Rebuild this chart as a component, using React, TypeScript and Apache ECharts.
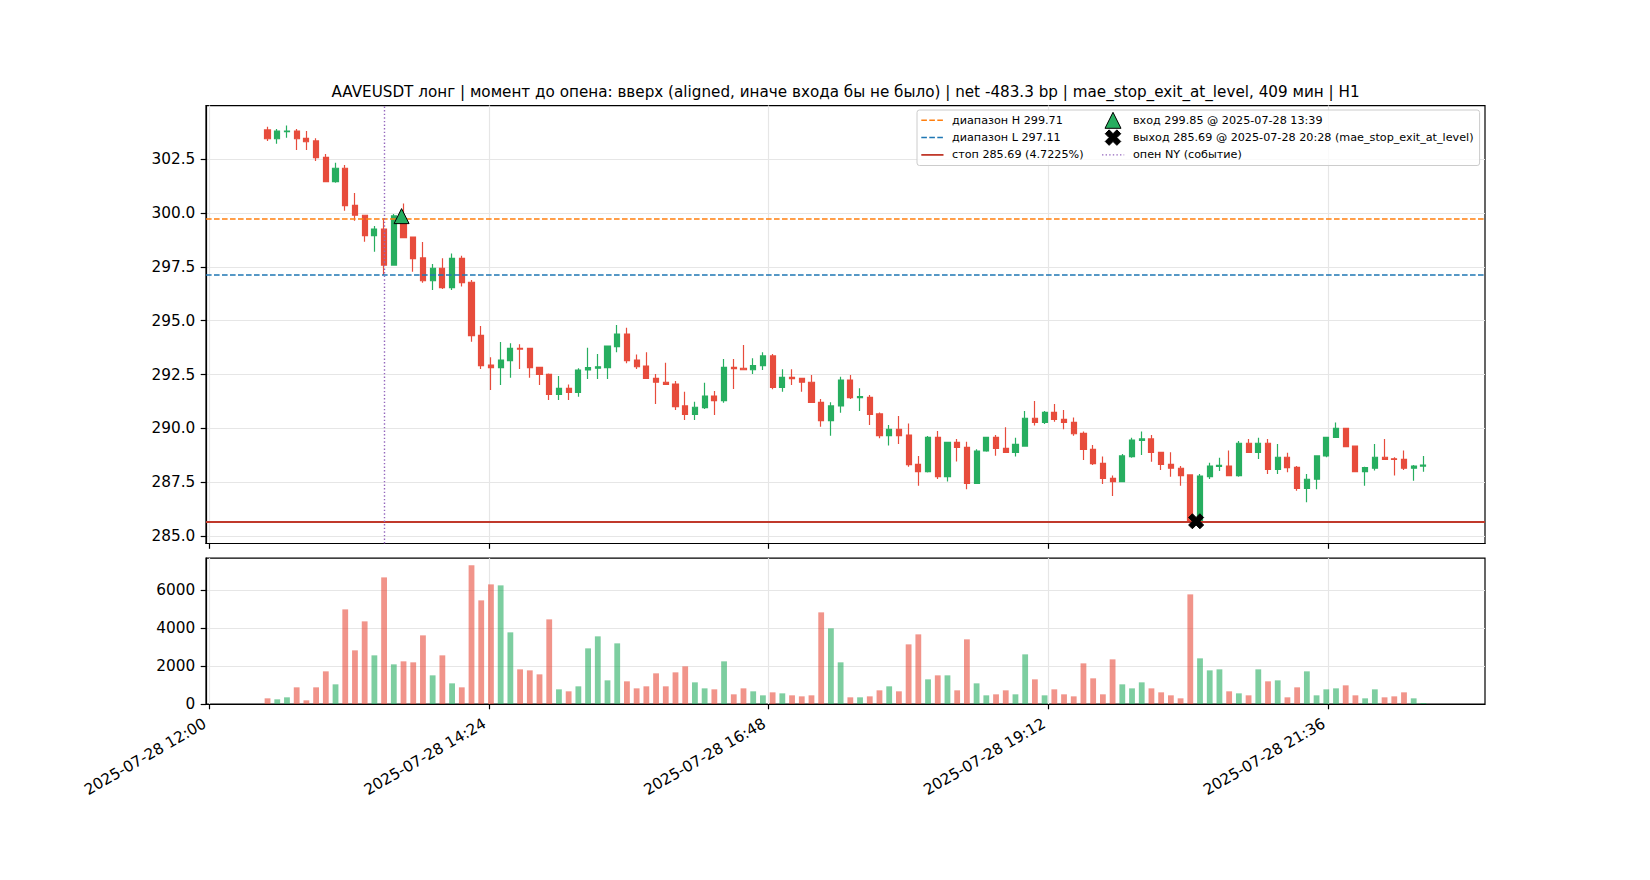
import React, { useEffect, useRef } from "react";
import * as echarts from "echarts";

const times = [
  "12:30","12:35","12:40","12:45","12:50","12:55","13:00","13:05","13:10","13:15","13:20","13:25",
  "13:30","13:35","13:40","13:45","13:50","13:55","14:00","14:05","14:10","14:15","14:20","14:25",
  "14:30","14:35","14:40","14:45","14:50","14:55","15:00","15:05","15:10","15:15","15:20","15:25",
  "15:30","15:35","15:40","15:45","15:50","15:55","16:00","16:05","16:10","16:15","16:20","16:25",
  "16:30","16:35","16:40","16:45","16:50","16:55","17:00","17:05","17:10","17:15","17:20","17:25",
  "17:30","17:35","17:40","17:45","17:50","17:55","18:00","18:05","18:10","18:15","18:20","18:25",
  "18:30","18:35","18:40","18:45","18:50","18:55","19:00","19:05","19:10","19:15","19:20","19:25",
  "19:30","19:35","19:40","19:45","19:50","19:55","20:00","20:05","20:10","20:15","20:20","20:25",
  "20:30","20:35","20:40","20:45","20:50","20:55","21:00","21:05","21:10","21:15","21:20","21:25",
  "21:30","21:35","21:40","21:45","21:50","21:55","22:00","22:05","22:10","22:15","22:20","22:25",
];

const opens = [
  303.85,303.44,303.77,303.80,303.46,303.34,302.58,301.45,302.07,300.35,299.89,298.94,299.25,297.58,299.51,298.88,297.91,296.85,
  297.43,296.53,297.89,296.78,294.32,292.94,292.82,293.14,293.71,293.71,292.83,292.51,291.58,291.86,291.67,292.71,292.79,292.82,293.79,294.38,
  293.17,292.89,292.32,292.14,292.06,291.04,290.65,290.96,291.50,291.29,292.83,292.79,292.72,292.91,293.36,291.90,292.37,292.32,292.14,
  291.21,290.36,291.04,292.24,291.43,291.44,290.67,289.66,289.96,289.69,288.33,287.99,289.58,287.76,289.35,289.12,287.45,288.95,289.58,289.07,
  288.89,289.18,290.47,290.28,290.74,290.42,290.28,289.77,289.03,288.38,287.68,287.53,288.69,289.44,289.51,288.89,288.33,288.15,287.84,285.72,
  287.76,288.23,288.25,287.81,289.31,288.89,289.31,288.10,288.66,288.19,287.22,287.64,288.72,289.58,290.00,289.18,287.99,288.15,288.66,288.59,288.56,288.15,288.25,
];

const closes = [
  303.44,303.80,303.80,303.44,303.30,302.56,301.45,302.07,300.34,299.89,298.94,299.25,297.58,299.86,298.85,297.88,296.85,297.43,
  296.53,297.89,296.76,294.30,292.91,292.82,293.17,293.71,293.68,292.82,292.51,291.58,291.86,291.67,292.71,292.82,292.86,293.82,294.38,293.14,
  292.86,292.32,292.14,292.04,291.01,290.65,290.98,291.50,291.29,292.83,292.77,292.72,292.91,293.36,291.90,292.37,292.31,292.14,291.21,
  290.36,291.04,292.24,291.43,291.47,290.65,289.66,289.96,289.66,288.32,287.99,289.58,287.76,289.35,289.12,287.45,288.95,289.58,289.07,288.89,
  289.26,290.47,290.28,290.74,290.42,290.28,289.75,289.03,288.36,287.68,287.53,288.72,289.46,289.51,288.89,288.33,288.15,287.81,285.72,287.79,
  288.25,288.28,287.81,289.31,288.89,289.31,288.10,288.66,288.18,287.22,287.64,288.72,289.58,290.00,289.15,287.99,288.18,288.66,288.56,288.56,288.15,288.25,288.30,
];

const highs = [
  304.00,303.89,304.05,303.89,303.80,303.46,302.73,302.33,302.22,300.92,299.89,299.39,299.75,299.95,300.44,298.88,298.65,297.63,
  297.89,298.12,298.01,296.88,294.75,293.30,294.01,293.95,293.90,293.71,292.83,292.55,292.43,292.04,292.79,293.74,293.45,293.82,294.80,294.67,
  293.43,293.53,292.52,293.05,292.20,291.70,291.24,292.12,291.73,293.22,293.22,293.87,293.25,293.53,293.45,292.74,292.74,292.32,292.48,
  291.36,291.21,292.40,292.48,291.86,291.55,290.74,290.16,290.57,290.23,288.72,289.65,289.88,289.35,289.51,289.38,289.03,289.58,289.69,290.05,
  289.57,290.81,291.27,290.81,291.13,290.85,290.51,289.85,289.23,288.69,287.81,288.81,289.57,289.85,289.69,288.89,288.89,288.25,287.84,287.88,
  288.41,288.64,288.97,289.42,289.51,289.57,289.51,289.28,288.87,288.25,287.88,288.72,289.58,290.27,290.00,289.18,288.22,289.28,289.51,288.66,288.97,288.30,288.72,
];

const lows = [
  303.34,303.21,303.49,302.92,302.92,302.41,301.42,301.40,300.10,299.64,298.66,298.20,297.12,297.55,298.85,297.27,296.76,296.42,
  296.47,296.42,296.58,294.02,292.76,291.78,292.01,292.35,292.76,292.35,292.01,291.32,291.32,291.32,291.47,292.29,292.29,292.29,293.53,293.02,
  292.75,292.29,291.13,292.04,290.85,290.39,290.39,290.90,290.62,291.19,291.83,292.71,292.52,292.71,291.81,291.70,292.01,291.70,291.21,
  290.08,289.66,290.73,291.36,290.81,290.16,289.54,289.20,289.27,288.22,287.34,287.95,287.65,287.53,288.46,287.17,287.42,288.92,288.73,288.89,
  288.69,289.15,290.13,290.20,290.31,289.96,289.66,288.53,288.30,287.42,286.86,287.53,288.64,288.76,288.45,288.07,287.76,287.34,285.58,285.62,
  287.65,288.02,287.81,287.76,288.89,288.58,287.88,287.88,287.96,287.11,286.57,287.17,288.66,289.58,289.15,287.99,287.34,288.04,288.56,287.81,288.07,287.57,287.99,
];

const volumes = [
  298,246,351,877,193,877,1719,1035,4981,2824,4350,2561,6665,2087,2245,2193,3613,1508,2561,1087,877,7310,5455,6297,
  6244,3771,1824,1771,1561,4455,772,667,930,2929,3561,1245,3192,1193,824,
  930,1614,930,1666,1982,1140,824,772,2245,509,824,667,456,614,561,456,403,456,4824,3982,2193,351,351,403,719,930,
  667,3140,3666,1298,1508,1508,719,3403,1087,456,509,719,509,2613,1298,
  456,772,509,403,2140,1351,509,2350,1035,824,1140,824,614,456,298,5771,2403,1771,1824,667,561,456,1824,1193,1245,
  351,877,1719,456,772,824,982,456,298,772,351,403,614,298,53,
];

const xTickValues = [0, 144, 288, 432, 576];
const priceTicks = [285, 287.5, 290, 292.5, 295, 297.5, 300, 302.5];
const volumeTicks = [0, 2000, 4000, 6000];

const rangeHigh = 299.71;
const rangeLow = 297.11;
const stopLevel = 285.69;
const nyOpenTime = "13:30";
const entryTime = "13:39";
const entryPrice = 299.85;
const exitTime = "20:28";
const exitPrice = 285.69;

const titleText =
  "AAVEUSDT лонг | момент до опена: вверх (aligned, иначе входа бы не было) | net -483.3 bp | mae_stop_exit_at_level, 409 мин | H1";

const legendLeft = [
  { label: "диапазон H 299.71", color: "#ff7f0e", dash: [5.6, 2.4], width: 1.5 },
  { label: "диапазон L 297.11", color: "#1f77b4", dash: [5.6, 2.4], width: 1.5 },
  { label: "стоп 285.69 (4.7225%)", color: "#c0392b", dash: null, width: 1.8 },
];
const legendRight = [
  "вход 299.85 @ 2025-07-28 13:39",
  "выход 285.69 @ 2025-07-28 20:28 (mae_stop_exit_at_level)",
  "опен NY (событие)",
];

const UP = "#27ae60";
const DOWN = "#e74c3c";
const FONT = '"DejaVu Sans", sans-serif';
const X_PATH = "M6 0L8 2L6 4L8 6L6 8L4 6L2 8L0 6L2 4L0 2L2 0L4 2Z";

function toMin(t: string): number {
  const [h, m] = t.split(":").map(Number);
  return (h - 12) * 60 + m;
}
function pad(n: number) {
  return n < 10 ? "0" + n : "" + n;
}
function fmtTime(v: number) {
  const tot = 12 * 60 + Math.round(v);
  return `2025-07-28 ${pad(Math.floor(tot / 60))}:${pad(tot % 60)}`;
}

function xPolygon(cx: number, cy: number, size: number) {
  const pts = [[6,0],[8,2],[6,4],[8,6],[6,8],[4,6],[2,8],[0,6],[2,4],[0,2],[2,0],[4,2]];
  const s = size / 8;
  return pts.map(([px, py]) => [cx + (px - 4) * s, cy + (py - 4) * s]);
}

function buildOption() {
  const candleData = times.map((t, i) => [toMin(t), opens[i], closes[i], lows[i], highs[i]]);
  const volData = times.map((t, i) => ({
    value: [toMin(t), volumes[i]],
    itemStyle: { color: closes[i] >= opens[i] ? "rgba(39,174,96,0.6)" : "rgba(231,76,60,0.6)" },
  }));

  const gridLine = { show: true, lineStyle: { color: "#e6e6e6", width: 1.2 } };
  const axisLineStyle = { show: true, onZero: false, lineStyle: { color: "#000", width: 1.2 } };
  const tickStyle = { lineStyle: { color: "#000", width: 1.2 }, length: 5.3, inside: false };
  const labelStyle = { color: "#000", fontFamily: FONT, fontSize: 15.3 };

  const xMin = -1.675;
  const xMax = 656.7;

  // legend graphics
  const boxX = 917;
  const boxY = 110;
  const boxW = 562.6;
  const boxH = 55.5;
  const rows = [120.3, 137.6, 154.9];
  const legendFont = { fontFamily: FONT, fontSize: 11.2, fill: "#000" };
  const g: any[] = [];
  g.push({
    type: "rect",
    shape: { x: boxX, y: boxY, width: boxW, height: boxH, r: 2.5 },
    style: { fill: "rgba(255,255,255,0.8)", stroke: "#cccccc", lineWidth: 1 },
    z: 100,
  });
  legendLeft.forEach((it, i) => {
    g.push({
      type: "line",
      shape: { x1: 921.3, y1: rows[i], x2: 943.5, y2: rows[i] },
      style: { stroke: it.color, lineWidth: it.width, lineDash: it.dash || undefined },
      z: 101,
    });
    g.push({
      type: "text",
      x: 952,
      y: rows[i],
      style: { text: it.label, ...legendFont, align: "left", verticalAlign: "middle", textAlign: "left", textVerticalAlign: "middle" },
      z: 101,
    });
  });
  g.push({
    type: "polygon",
    shape: { points: [[1113, rows[0] - 8], [1105, rows[0] + 8], [1121, rows[0] + 8]] },
    style: { fill: UP, stroke: "#000", lineWidth: 1 },
    z: 101,
  });
  g.push({
    type: "polygon",
    shape: { points: xPolygon(1113, rows[1], 15.5) },
    style: { fill: "#000", stroke: "#000", lineWidth: 1 },
    z: 101,
  });
  g.push({
    type: "line",
    shape: { x1: 1102, y1: rows[2], x2: 1124.2, y2: rows[2] },
    style: { stroke: "#9467bd", lineWidth: 1.4, lineDash: [1.4, 2.2] },
    z: 101,
  });
  legendRight.forEach((label, i) => {
    g.push({
      type: "text",
      x: 1133,
      y: rows[i],
      style: { text: label, ...legendFont, align: "left", verticalAlign: "middle", textAlign: "left", textVerticalAlign: "middle" },
      z: 101,
    });
  });
  g.push({
    type: "text",
    x: 845.5,
    y: 92,
    style: {
      text: titleText, fontFamily: FONT, fontSize: 15.2, fill: "#000",
      align: "center", verticalAlign: "middle", textAlign: "center", textVerticalAlign: "middle",
    },
    z: 101,
  });

  return {
    animation: false,
    backgroundColor: "#fff",
    grid: [
      { left: 206, top: 105.6, width: 1279, height: 437.9, show: true, borderColor: "#000", borderWidth: 1.2, backgroundColor: "transparent" },
      { left: 206, top: 558.1, width: 1279, height: 145.9, show: true, borderColor: "#000", borderWidth: 1.2, backgroundColor: "transparent" },
    ],
    xAxis: [
      {
        type: "value", gridIndex: 0, min: xMin, max: xMax,
        axisLine: axisLineStyle,
        axisTick: { ...tickStyle, customValues: xTickValues },
        axisLabel: { show: false },
        splitLine: gridLine,
      },
      {
        type: "value", gridIndex: 1, min: xMin, max: xMax,
        axisLine: axisLineStyle,
        axisTick: { ...tickStyle, customValues: xTickValues },
        axisLabel: {
          ...labelStyle, customValues: xTickValues, rotate: 30, margin: 15.8, padding: [0, 5, 0, 0],
          formatter: (v: number) => fmtTime(v),
        },
        splitLine: gridLine,
      },
    ],
    yAxis: [
      {
        type: "value", gridIndex: 0, min: 284.658, max: 304.978,
        axisLine: axisLineStyle,
        axisTick: { ...tickStyle, customValues: priceTicks },
        axisLabel: { ...labelStyle, customValues: priceTicks, margin: 10.7, formatter: (v: number) => v.toFixed(1) },
        splitLine: gridLine,
      },
      {
        type: "value", gridIndex: 1, min: 0, max: 7680,
        axisLine: axisLineStyle,
        axisTick: { ...tickStyle, customValues: volumeTicks },
        axisLabel: { ...labelStyle, customValues: volumeTicks, margin: 10.7, formatter: (v: number) => String(Math.round(v)) },
        splitLine: gridLine,
      },
    ],
    series: [
      {
        type: "candlestick",
        xAxisIndex: 0,
        yAxisIndex: 0,
        data: candleData,
        encode: { x: 0, y: [1, 2, 3, 4] },
        barWidth: 5.6,
        itemStyle: { color: UP, color0: DOWN, borderColor: UP, borderColor0: DOWN, borderWidth: 1.2 },
        markLine: {
          silent: true,
          symbol: ["none", "none"],
          label: { show: false },
          data: [
            { yAxis: rangeHigh, lineStyle: { color: "#ff7f0e", width: 1.5, type: [5.6, 2.4] } },
            { yAxis: rangeLow, lineStyle: { color: "#1f77b4", width: 1.5, type: [5.6, 2.4] } },
            { yAxis: stopLevel, lineStyle: { color: "#c0392b", width: 1.8, type: "solid" } },
            { xAxis: toMin(nyOpenTime), lineStyle: { color: "#9467bd", width: 1.4, type: [1.4, 2.2] } },
          ],
        },
      },
      {
        type: "bar",
        xAxisIndex: 1,
        yAxisIndex: 1,
        data: volData,
        barWidth: 5.8,
      },
      {
        type: "scatter",
        xAxisIndex: 0,
        yAxisIndex: 0,
        z: 10,
        data: [[toMin(entryTime), entryPrice]],
        symbol: "triangle",
        symbolSize: 15,
        itemStyle: { color: UP, borderColor: "#000", borderWidth: 1, opacity: 1 },
      },
      {
        type: "scatter",
        xAxisIndex: 0,
        yAxisIndex: 0,
        z: 10,
        data: [[toMin(exitTime), exitPrice]],
        symbol: "path://" + X_PATH,
        symbolSize: 15,
        itemStyle: { color: "#000", borderColor: "#000", borderWidth: 1, opacity: 1 },
      },
    ],
    graphic: g,
  };
}

export default function App() {
  const ref = useRef<HTMLDivElement>(null);
  useEffect(() => {
    if (!ref.current) return;
    const chart = echarts.init(ref.current, null, { renderer: "svg" });
    chart.setOption(buildOption() as any);
    return () => chart.dispose();
  }, []);
  return (
    <div
      ref={ref}
      style={{ position: "fixed", left: 0, top: 0, width: 1650, height: 880, background: "#fff" }}
    />
  );
}
